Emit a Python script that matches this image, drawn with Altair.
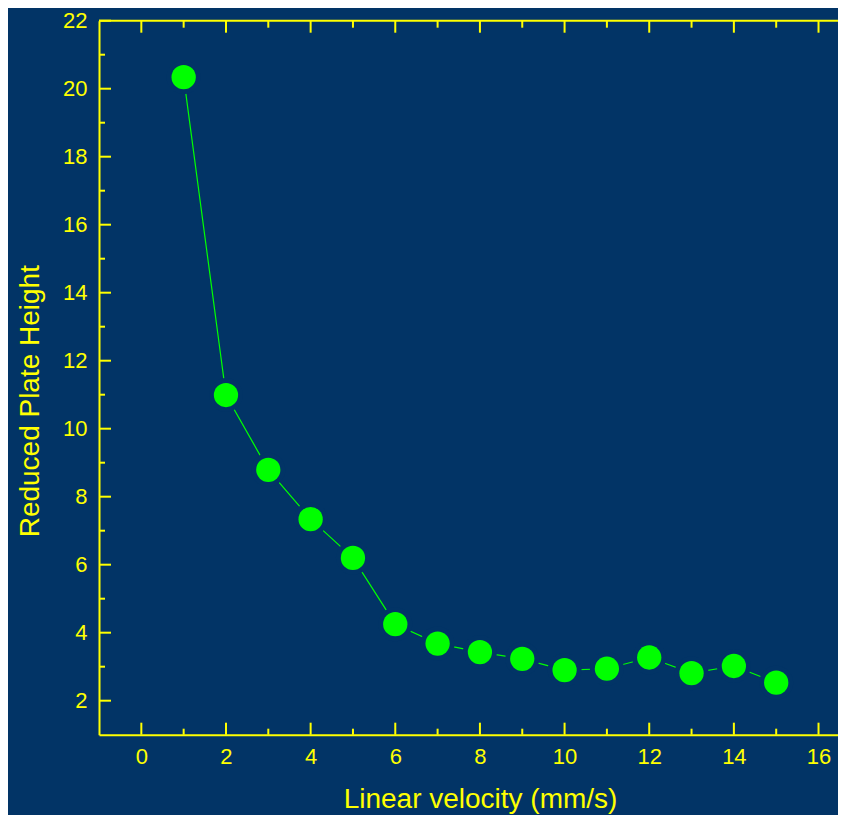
import altair as alt
import pandas as pd

# ---- data ----
velocity = [1, 2, 3, 4, 5, 6, 7, 8, 9, 10, 11, 12, 13, 14, 15]
plate_height = [20.34, 10.99, 8.79, 7.34, 6.20, 4.25, 3.68, 3.43, 3.23, 2.90, 2.94, 3.27, 2.81, 3.02, 2.53]

x_major = [0, 2, 4, 6, 8, 10, 12, 14, 16]
x_minor = [1, 3, 5, 7, 9, 11, 13, 15]
y_major = [2, 4, 6, 8, 10, 12, 14, 16, 18, 20, 22]
y_minor = [3, 5, 7, 9, 11, 13, 15, 17, 19, 21]

BG = "#023466"
YEL = "#FFFF00"
GRN = "#00FF00"
FONT = "Liberation Sans"

W, H = 739, 714
X_DOM = [-1, 16.46]
Y_DOM = [1, 22]

df = pd.DataFrame({"v": velocity, "h": plate_height})
xs = alt.Scale(domain=X_DOM, nice=False, zero=False)
ys = alt.Scale(domain=Y_DOM, nice=False, zero=False)

x_axis = alt.Axis(
    values=x_major, orient="bottom", ticks=False, grid=False, labelFlush=False,
    labelColor=YEL, labelFont=FONT, labelFontSize=22, labelPadding=12,
    domainColor=YEL, domainWidth=2,
    title="Linear velocity (mm/s)", titleColor=YEL, titleFont=FONT, titleFontSize=28,
    titleFontWeight="normal", titleBaseline="alphabetic", titleAlign="center",
    titleX=381, titleY=73,
)
y_axis = alt.Axis(
    values=y_major, orient="left", ticks=False, grid=False, labelFlush=False,
    labelColor=YEL, labelFont=FONT, labelFontSize=22, labelPadding=12,
    domainColor=YEL, domainWidth=2,
    title="Reduced Plate Height", titleColor=YEL, titleFont=FONT, titleFontSize=28,
    titleFontWeight="normal", titleBaseline="alphabetic", titleAlign="center",
    titleAngle=270, titleX=-61, titleY=380,
)

line = alt.Chart(df).mark_line(color=GRN, strokeWidth=1.2).encode(
    x=alt.X("v:Q", scale=xs, axis=x_axis),
    y=alt.Y("h:Q", scale=ys, axis=y_axis),
)
gaps = alt.Chart(df).mark_circle(size=1156, color=BG, opacity=1).encode(
    x=alt.X("v:Q", scale=xs),
    y=alt.Y("h:Q", scale=ys),
)
dots = alt.Chart(df).mark_circle(size=590, color=GRN, opacity=1).encode(
    x=alt.X("v:Q", scale=xs),
    y=alt.Y("h:Q", scale=ys),
)

def xticks(vals, y0, y1):
    return alt.Chart(pd.DataFrame({"v": vals})).mark_rule(color=YEL, strokeWidth=2).encode(
        x=alt.X("v:Q", scale=xs),
        y=alt.value(y0), y2=alt.value(y1),
    )

def yticks(vals, x0, x1):
    return alt.Chart(pd.DataFrame({"h": vals})).mark_rule(color=YEL, strokeWidth=2).encode(
        y=alt.Y("h:Q", scale=ys),
        x=alt.value(x0), x2=alt.value(x1),
    )

# top frame line spanning the whole x domain
top_frame = alt.Chart(pd.DataFrame({"v": [X_DOM[0]], "b": [X_DOM[1]]})).mark_rule(
    color=YEL, strokeWidth=2
).encode(
    x=alt.X("v:Q", scale=xs), x2="b:Q", y=alt.value(0),
)

layers = [
    line, gaps, dots,
    xticks(x_major, H, H - 12), xticks(x_minor, H, H - 6),
    xticks(x_major, 0, 12), xticks(x_minor, 0, 7),
    yticks(y_major, 0, 12), yticks(y_minor, 0, 6),
    top_frame,
]

chart = alt.layer(*layers).properties(
    width=W, height=H,
    autosize=alt.AutoSizeParams(type="none"),
    padding={"left": 91, "top": 12.7, "right": 0, "bottom": 80},
    background=BG,
).configure_view(stroke=None)

chart.save("out.html", embed_options={"renderer": "svg", "actions": False})
